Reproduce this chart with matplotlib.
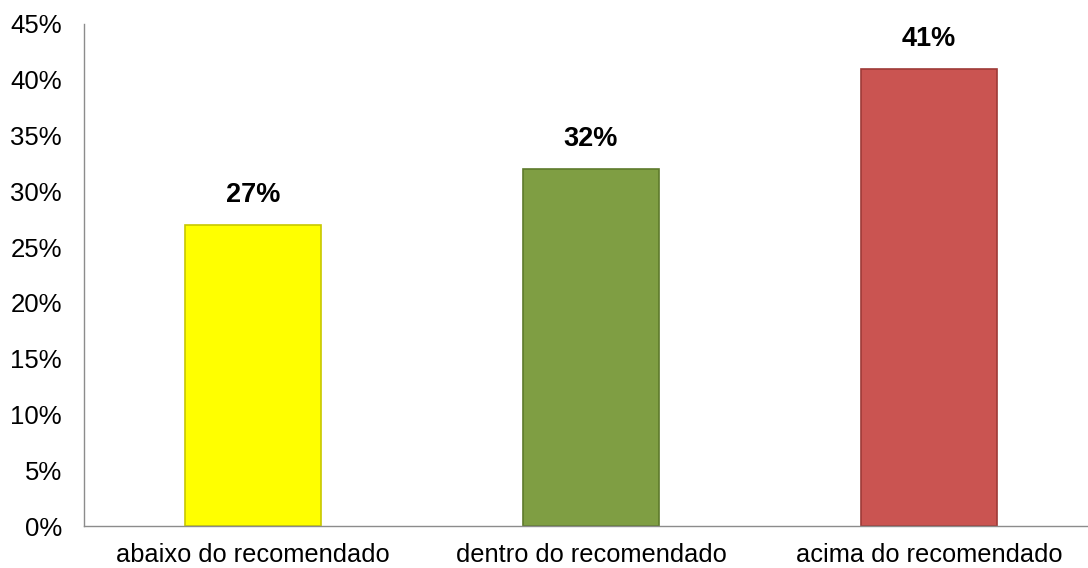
import matplotlib
matplotlib.use("Agg")
import matplotlib.pyplot as plt
from matplotlib.ticker import FuncFormatter

categories = ["abaixo do recomendado", "dentro do recomendado", "acima do recomendado"]
values = [27, 32, 41]
labels = ["27%", "32%", "41%"]
colors = ["#FFFF00", "#7F9E43", "#CA5451"]
edge_colors = ["#C8C800", "#5E7A2C", "#9E3A37"]
yticks = [0, 5, 10, 15, 20, 25, 30, 35, 40, 45]

plt.rcParams['font.family'] = ['Liberation Sans', 'DejaVu Sans']

fig = plt.figure(figsize=(10.88, 5.68), dpi=100)
W, H = 1088, 568
ax = fig.add_axes([84 / W, 1 - 526 / H, (1088 - 84) / W, (526 - 24) / H])

x = list(range(len(categories)))
bars = ax.bar(x, values, width=0.405, color=colors, edgecolor=edge_colors, linewidth=1.2, zorder=2)

for b, lab in zip(bars, labels):
    ax.annotate(lab, (b.get_x() + b.get_width() / 2, b.get_height()),
                xytext=(0, 12), textcoords="offset points",
                ha="center", va="bottom", fontsize=19.5, fontweight="bold", color="black")

ax.set_xlim(-0.5, 2.5 - 10 / 338)
ax.set_ylim(0, 45)
ax.set_yticks(yticks)
ax.yaxis.set_major_formatter(FuncFormatter(lambda v, p: f"{v:.0f}%"))
ax.set_xticks(x)
ax.set_xticklabels(categories)
ax.tick_params(axis="y", length=0, labelsize=18.5, colors="black", pad=16)
ax.tick_params(axis="x", length=0, labelsize=18.3, colors="black", pad=12)
for s in ["top", "right"]:
    ax.spines[s].set_visible(False)
for s in ["left", "bottom"]:
    ax.spines[s].set_color("#8C8C8C")
    ax.spines[s].set_linewidth(1.0)

fig.savefig("out.png", dpi=100)
